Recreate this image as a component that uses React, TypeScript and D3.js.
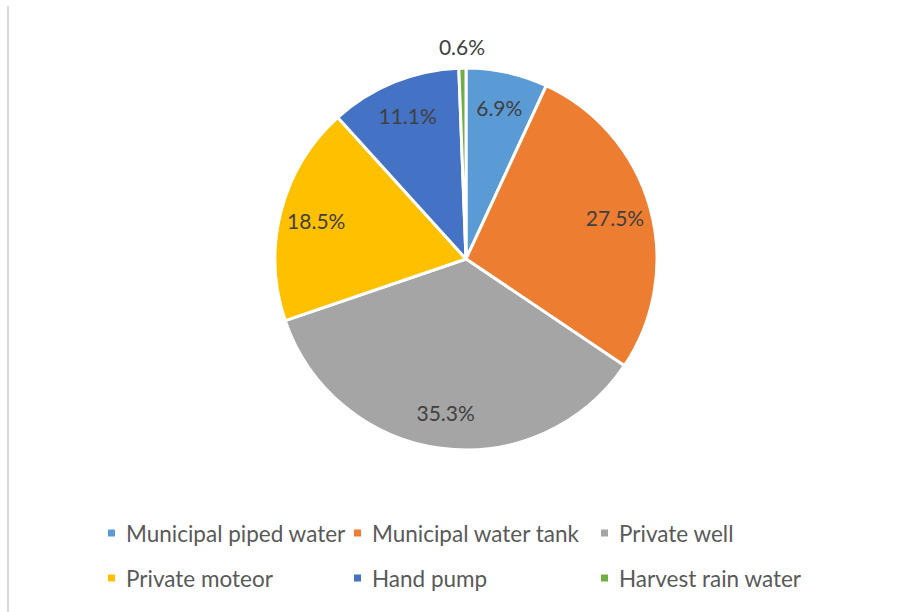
import React from "react";
import * as d3 from "d3";

const categories = [
  "Municipal piped water",
  "Municipal water tank",
  "Private well",
  "Private moteor",
  "Hand pump",
  "Harvest rain water",
];
const values = [6.9, 27.5, 35.3, 18.5, 11.1, 0.6];
const colors = ["#5B9BD5", "#ED7D31", "#A5A5A5", "#FFC000", "#4472C4", "#70AD47"];
const labelText = ["6.9%", "27.5%", "35.3%", "18.5%", "11.1%", "0.6%"];

const W = 913;
const H = 612;
const cx = 466;
const cy = 259;
const R = 191;
const FONT = "Lato, 'Liberation Sans', Arial, sans-serif";

export default function App() {
  const pie = d3
    .pie<number>()
    .sort(null)
    .value((d) => d)(values);
  const arc = d3.arc<d3.PieArcDatum<number>>().innerRadius(0).outerRadius(R);
  const labelArc = d3
    .arc<d3.PieArcDatum<number>>()
    .innerRadius(R * 0.81)
    .outerRadius(R * 0.81);
  const outerArc = d3
    .arc<d3.PieArcDatum<number>>()
    .innerRadius(R + 22)
    .outerRadius(R + 22);

  const legendCols = [126, 372, 619];
  const legendRows = [533, 578];

  return (
    <svg
      width={W}
      height={H}
      style={{ position: "absolute", left: 0, top: 0, background: "#fff" }}
    >
      <line x1={8} y1={6} x2={8} y2={H} stroke="#d9d9d9" strokeWidth={2} />
      <g transform={`translate(${cx},${cy})`}>
        {pie.map((p, i) => (
          <path
            key={i}
            d={arc(p) || ""}
            fill={colors[i]}
            stroke="#fff"
            strokeWidth={3}
            strokeLinejoin="round"
          />
        ))}
        {pie.map((p, i) => {
          const small = values[i] < 2;
          const [x, y] = small ? outerArc.centroid(p) : labelArc.centroid(p);
          return (
            <text
              key={i}
              x={x}
              y={y}
              textAnchor="middle"
              dominantBaseline="central"
              fontFamily={FONT}
              fontSize={21}
              fill="#404040"
            >
              {labelText[i]}
            </text>
          );
        })}
      </g>
      {categories.map((c, i) => {
        const col = i % 3;
        const row = Math.floor(i / 3);
        const tx = legendCols[col];
        const ty = legendRows[row];
        return (
          <g key={c}>
            <rect x={tx - 18} y={ty - 3.5} width={7} height={7} fill={colors[i]} />
            <text
              x={tx}
              y={ty}
              dominantBaseline="central"
              fontFamily={FONT}
              fontSize={22.5}
              fill="#595959"
            >
              {c}
            </text>
          </g>
        );
      })}
    </svg>
  );
}
